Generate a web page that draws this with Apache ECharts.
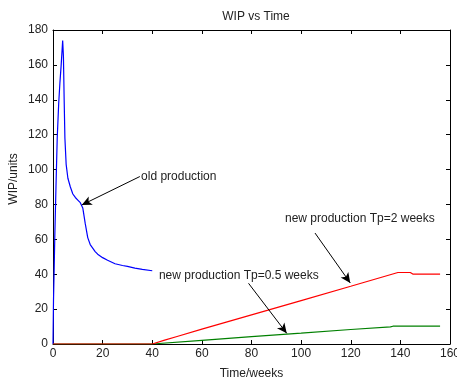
<!DOCTYPE html>
<html>
<head>
<meta charset="utf-8">
<script src="https://cdn.jsdelivr.net/npm/echarts@6/dist/echarts.min.js"></script>
<style>
  html, body { margin: 0; padding: 0; background: #fff; }
  #chart { width: 457px; height: 377px; }
</style>
</head>
<body>
<div id="chart"></div>
<script>
// old production (blue)
const oldT = [0, 0.2, 0.5, 0.7, 1.2, 1.7, 2.3, 2.8, 3.3, 3.9, 4.2, 4.5, 4.8, 5.3, 6, 7, 8, 9, 10, 11, 12, 13, 14, 15, 16, 17, 18, 20, 22, 25, 28, 30, 33, 36, 40];
const oldWip = [0, 25, 45, 60, 90, 118, 138, 150, 160, 174, 165, 140, 118, 103, 95, 90, 86, 84, 82.5, 81, 78, 69, 61, 57, 55, 53, 51.5, 49.5, 48, 46, 45, 44.5, 43.5, 42.8, 42];

// new production Tp=2 weeks (red)
const tp2T = [0, 40, 45, 50, 60, 80, 100, 120, 139, 144, 145, 156];
const tp2Wip = [0, 0, 2.2, 4.3, 8.5, 16.7, 24.9, 33.1, 41, 41, 40.1, 40.1];

// new production Tp=0.5 weeks (green)
const tp05T = [0, 40, 60, 80, 100, 120, 136, 137, 156];
const tp05Wip = [0, 0, 2.1, 4.2, 6.2, 8.3, 9.8, 10.2, 10.2];

const xTicks = { min: 0, max: 160, step: 20 };
const yTicks = { min: 0, max: 180, step: 20 };

// annotation labels and arrows (data coordinates)
const labelOld = { text: "old production", at: [35.5, 96], from: [35, 96], to: [11.6, 79.7] };
const labelTp2 = { text: "new production Tp=2 weeks", at: [93.5, 71.7], from: [105.6, 63.6], to: [119.8, 35] };
const labelTp05 = { text: "new production Tp=0.5 weeks", at: [42.7, 39.2], from: [78.8, 34.8], to: [94.2, 6.1] };

const zip = (a, b) => a.map((v, i) => [v, b[i]]);
const font = "'Liberation Sans', Arial, sans-serif";

function annotate(a) {
  return {
    markLine: {
      silent: true,
      symbol: ["none", "arrow"],
      symbolSize: [7, 10],
      label: { show: false },
      lineStyle: { color: "#000", width: 1, type: "solid" },
      data: [[{ coord: a.from }, { coord: a.to }]],
    },
    markPoint: {
      silent: true,
      symbolSize: 0,
      label: {
        show: true,
        position: "right",
        distance: 0,
        formatter: a.text,
        color: "#222",
        fontFamily: font,
        fontSize: 12,
      },
      data: [{ coord: a.at }],
    },
  };
}

const axisCommon = {
  type: "value",
  axisLine: { show: true, onZero: false, lineStyle: { color: "#000", width: 1 } },
  axisTick: { show: true, inside: true, length: 4, lineStyle: { color: "#000" } },
  splitLine: { show: false },
};

const chart = echarts.init(document.getElementById("chart"), null, { renderer: "canvas" });

chart.setOption({
  animation: false,
  backgroundColor: "#fff",
  title: {
    text: "WIP vs Time",
    left: 251,
    top: 6,
    textAlign: "center",
    textStyle: { fontFamily: font, fontSize: 12, fontWeight: "normal", color: "#222" },
  },
  grid: { left: 53, right: 7, top: 30, bottom: 33, outerBoundsMode: "none", containLabel: false },
  xAxis: [
    {
      ...axisCommon,
      min: xTicks.min,
      max: xTicks.max,
      interval: xTicks.step,
      name: "Time/weeks",
      nameLocation: "middle",
      nameGap: 24,
      nameMoveOverlap: false,
      nameTextStyle: { fontFamily: font, fontSize: 12, color: "#222" },
      axisLabel: { fontFamily: font, fontSize: 12, color: "#222", margin: 4 },
    },
    {
      ...axisCommon,
      position: "top",
      min: xTicks.min,
      max: xTicks.max,
      interval: xTicks.step,
      axisLabel: { show: false },
    },
  ],
  yAxis: [
    {
      ...axisCommon,
      min: yTicks.min,
      max: yTicks.max,
      interval: yTicks.step,
      name: "WIP/units",
      nameLocation: "middle",
      nameGap: 33,
      nameMoveOverlap: false,
      nameTextStyle: { fontFamily: font, fontSize: 12, color: "#222", padding: [0, 0, 0, 16] },
      axisLabel: { fontFamily: font, fontSize: 12, color: "#222", margin: 5 },
    },
    {
      ...axisCommon,
      position: "right",
      min: yTicks.min,
      max: yTicks.max,
      interval: yTicks.step,
      axisLabel: { show: false },
    },
  ],
  series: [
    {
      name: "Tp=0.5",
      type: "line",
      data: zip(tp05T, tp05Wip),
      symbol: "none",
      lineStyle: { color: "#008000", width: 1.2 },
      ...annotate(labelTp05),
    },
    {
      name: "old",
      type: "line",
      data: zip(oldT, oldWip),
      symbol: "none",
      lineStyle: { color: "#0000ff", width: 1.2 },
      ...annotate(labelOld),
    },
    {
      name: "Tp=2",
      type: "line",
      data: zip(tp2T, tp2Wip),
      symbol: "none",
      lineStyle: { color: "#ff0000", width: 1.2 },
      ...annotate(labelTp2),
    },
  ],
});
</script>
</body>
</html>
